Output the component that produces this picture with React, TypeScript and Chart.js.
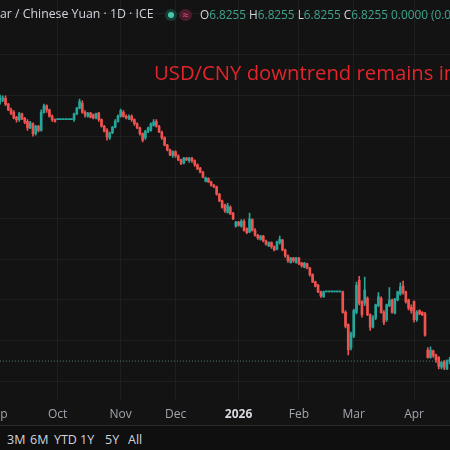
import React, { useEffect, useRef } from 'react';
import { Chart, registerables } from 'chart.js';
Chart.register(...registerables);

// Daily bars (weekdays) from 1 Sep 2025, index = trading-day number
const openValues = [7.139,7.142,7.144,7.146,7.139,7.132,7.129,7.123,7.120,7.127,
 7.122,7.118,7.110,7.115,7.103,7.112,7.107,7.129,7.137,7.132,
 7.124,7.120,7.120,7.120,7.120,7.120,7.120,7.120,7.120,7.127,
 7.134,7.140,7.129,7.124,7.128,7.126,7.122,7.128,7.120,7.112,
 7.107,7.098,7.104,7.111,7.118,7.124,7.129,7.124,7.121,7.124,
 7.120,7.115,7.110,7.103,7.098,7.106,7.107,7.113,7.118,7.112,
 7.105,7.098,7.089,7.083,7.076,7.081,7.076,7.071,7.067,7.073,
 7.070,7.073,7.070,7.065,7.061,7.056,7.045,7.048,7.044,7.040,
 7.038,7.029,7.021,7.016,7.007,7.013,7.006,6.990,6.995,6.990,
 6.996,6.987,6.983,6.998,6.985,6.979,6.974,6.978,6.972,6.966,
 6.970,6.965,6.962,6.970,6.973,6.961,6.954,6.946,6.951,6.946,
 6.951,6.945,6.940,6.944,6.939,6.931,6.922,6.918,6.910,6.904,
 6.910,6.910,6.910,6.910,6.910,6.910,6.910,6.885,6.870,6.842,
 6.856,6.885,6.924,6.898,6.896,6.902,6.882,6.867,6.878,6.893,
 6.902,6.885,6.876,6.893,6.900,6.884,6.900,6.907,6.917,6.910,
 6.900,6.891,6.898,6.876,6.887,6.885,6.883,6.839,6.830,6.838,
 6.833,6.830,6.818,6.825,6.816,6.825];

const highValues = [7.149,7.150,7.149,7.149,7.140,7.134,7.131,7.124,7.129,7.128,
 7.123,7.120,7.118,7.116,7.113,7.113,7.132,7.139,7.138,7.133,
 7.126,7.121,7.120,7.120,7.120,7.120,7.120,7.120,7.128,7.135,
 7.145,7.143,7.131,7.129,7.129,7.127,7.128,7.129,7.121,7.113,
 7.109,7.105,7.112,7.120,7.126,7.133,7.131,7.126,7.126,7.126,
 7.121,7.116,7.111,7.104,7.107,7.111,7.116,7.120,7.120,7.113,
 7.106,7.099,7.090,7.084,7.082,7.082,7.077,7.072,7.074,7.074,
 7.074,7.074,7.071,7.066,7.062,7.057,7.050,7.049,7.045,7.041,
 7.039,7.030,7.022,7.017,7.018,7.015,7.007,6.996,6.996,6.998,
 6.998,6.988,7.006,6.999,6.987,6.980,6.979,6.979,6.973,6.971,
 6.971,6.966,6.972,6.978,6.974,6.962,6.955,6.952,6.952,6.952,
 6.952,6.946,6.946,6.945,6.940,6.932,6.923,6.919,6.911,6.911,
 6.910,6.910,6.910,6.910,6.910,6.910,6.911,6.887,6.871,6.861,
 6.889,6.922,6.929,6.899,6.928,6.904,6.883,6.881,6.895,6.909,
 6.904,6.887,6.895,6.915,6.901,6.902,6.911,6.921,6.923,6.911,
 6.901,6.894,6.899,6.887,6.888,6.886,6.885,6.842,6.843,6.839,
 6.834,6.831,6.825,6.826,6.827,6.830];

const lowValues = [7.137,7.139,7.142,7.137,7.131,7.126,7.121,7.117,7.118,7.120,
 7.115,7.107,7.109,7.100,7.101,7.105,7.106,7.128,7.129,7.123,
 7.118,7.117,7.120,7.120,7.120,7.120,7.120,7.120,7.118,7.126,
 7.133,7.128,7.123,7.123,7.122,7.121,7.121,7.118,7.111,7.105,
 7.095,7.096,7.103,7.110,7.117,7.123,7.123,7.121,7.120,7.118,
 7.113,7.109,7.101,7.093,7.096,7.104,7.106,7.112,7.111,7.104,
 7.096,7.088,7.082,7.076,7.074,7.074,7.070,7.065,7.066,7.070,
 7.068,7.068,7.063,7.059,7.055,7.049,7.044,7.043,7.039,7.037,
 7.028,7.020,7.012,7.007,7.006,7.004,6.998,6.989,6.990,6.989,
 6.984,6.981,6.982,6.984,6.978,6.974,6.973,6.971,6.967,6.965,
 6.963,6.960,6.961,6.968,6.960,6.952,6.946,6.945,6.946,6.945,
 6.943,6.940,6.939,6.938,6.929,6.921,6.916,6.909,6.903,6.903,
 6.910,6.910,6.910,6.910,6.910,6.910,6.884,6.866,6.833,6.839,
 6.854,6.883,6.894,6.879,6.893,6.881,6.863,6.866,6.876,6.892,
 6.884,6.870,6.874,6.892,6.884,6.883,6.899,6.906,6.907,6.896,
 6.888,6.884,6.873,6.874,6.882,6.881,6.856,6.829,6.829,6.830,
 6.824,6.816,6.816,6.815,6.815,6.822];

const closeValues = [7.146,7.148,7.146,7.139,7.132,7.128,7.122,7.120,7.127,7.121,
 7.117,7.110,7.116,7.103,7.112,7.107,7.129,7.137,7.132,7.124,
 7.120,7.118,7.120,7.120,7.120,7.120,7.120,7.120,7.127,7.134,
 7.142,7.129,7.126,7.128,7.123,7.122,7.127,7.120,7.112,7.106,
 7.099,7.104,7.111,7.118,7.124,7.131,7.124,7.122,7.124,7.120,
 7.115,7.110,7.103,7.095,7.106,7.110,7.115,7.117,7.112,7.105,
 7.098,7.089,7.083,7.077,7.081,7.076,7.071,7.067,7.073,7.071,
 7.073,7.070,7.065,7.060,7.056,7.050,7.049,7.044,7.040,7.038,
 7.029,7.021,7.013,7.009,7.015,7.005,6.999,6.995,6.991,6.996,
 6.985,6.982,6.999,6.985,6.979,6.976,6.978,6.972,6.968,6.970,
 6.965,6.961,6.971,6.974,6.961,6.954,6.948,6.951,6.948,6.951,
 6.944,6.942,6.945,6.939,6.931,6.922,6.917,6.910,6.905,6.910,
 6.910,6.910,6.910,6.910,6.910,6.910,6.885,6.868,6.839,6.859,
 6.887,6.918,6.896,6.882,6.912,6.882,6.867,6.878,6.894,6.904,
 6.885,6.873,6.894,6.900,6.885,6.901,6.910,6.916,6.909,6.898,
 6.890,6.887,6.876,6.885,6.883,6.882,6.857,6.830,6.839,6.832,
 6.827,6.819,6.824,6.818,6.826,6.827];

// Month ticks: index of first trading day of each month
const monthTickIndex = [0, 22, 45, 65, 88, 110, 130, 152];
const monthTickLabels = ['Sep', 'Oct', 'Nov', 'Dec', '2026', 'Feb', 'Mar', 'Apr'];
const priceGridValues = [6.80, 6.85, 6.90, 6.95, 7.00, 7.05, 7.10, 7.15, 7.20, 7.25];
const lastPrice = 6.8255;

const UP = '#26a69a';
const DOWN = '#ef5350';
const BG = '#131313';
const GRID = '#1f1f1f';
const FONT = '"Open Sans", sans-serif';

function CandleChart() {
  const ref = useRef<HTMLCanvasElement | null>(null);
  useEffect(() => {
    if (!ref.current) return;
    const colors = closeValues.map((c, i) => (c >= openValues[i] ? UP : DOWN));
    const chart = new Chart(ref.current, {
      type: 'bar',
      data: {
        datasets: [
          {
            data: closeValues.map((c, i) => ({ x: i, y: [lowValues[i], highValues[i]] })) as any,
            backgroundColor: colors,
            barThickness: 1,
            grouped: false,
            borderWidth: 0,
            order: 2,
          } as any,
          {
            data: closeValues.map((c, i) => ({ x: i, y: [openValues[i], c] })) as any,
            backgroundColor: colors,
            barThickness: 2,
            minBarLength: 1,
            grouped: false,
            borderWidth: 0,
            order: 1,
          } as any,
          {
            type: 'line',
            data: [{ x: -10, y: lastPrice }, { x: 170, y: lastPrice }],
            borderColor: 'rgba(90,150,140,0.85)',
            borderWidth: 1,
            borderDash: [1, 2],
            pointRadius: 0,
            order: 3,
          } as any,
        ],
      },
      options: {
        animation: false,
        responsive: true,
        maintainAspectRatio: false,
        layout: { padding: 0 },
        plugins: { legend: { display: false }, tooltip: { enabled: false } },
        scales: {
          x: {
            type: 'linear',
            min: -6.045,
            max: 165.11,
            offset: false,
            grid: { color: GRID, drawTicks: false, offset: false },
            border: { display: false },
            afterBuildTicks: (s: any) => {
              s.ticks = monthTickIndex.map((v) => ({ value: v }));
            },
            afterFit: (s: any) => {
              s.height = 25;
            },
            ticks: {
              autoSkip: false,
              maxRotation: 0,
              padding: 7,
              color: (ctx: any) => (ctx.tick && ctx.tick.value === 88 ? '#d8dae0' : '#a3a6af'),
              font: (ctx: any) => ({
                family: FONT,
                size: 12,
                weight: ctx.tick && ctx.tick.value === 88 ? 'bold' : 'normal',
              }),
              callback: (v: any) => {
                const k = monthTickIndex.indexOf(Number(v));
                return k >= 0 ? monthTickLabels[k] : '';
              },
            },
          },
          y: {
            type: 'linear',
            position: 'right',
            min: 6.778,
            max: 7.266,
            grid: { color: GRID, drawTicks: false },
            border: { display: false },
            ticks: { display: false },
            afterBuildTicks: (s: any) => {
              s.ticks = priceGridValues.map((v) => ({ value: v }));
            },
            afterFit: (s: any) => {
              s.width = 0;
            },
          },
        },
      },
    } as any);
    return () => chart.destroy();
  }, []);
  return (
    <div style={{ position: 'absolute', left: -20, top: 0, width: 470, height: 425 }}>
      <canvas ref={ref} />
    </div>
  );
}

export default function App() {
  const txt = '#d1d4dc';
  const val = '#3fa38d';
  return (
    <div
      style={{
        position: 'fixed',
        left: 0,
        top: 0,
        width: 450,
        height: 450,
        overflow: 'hidden',
        background: BG,
        fontFamily: FONT,
      }}
    >
      <CandleChart />
      <div style={{ position: 'absolute', left: 0, top: 8, fontSize: 12.3, lineHeight: '12px', color: txt, whiteSpace: 'nowrap' }}>
        ar / Chinese Yuan · 1D · ICE
      </div>
      <div style={{ position: 'absolute', left: 165, top: 9, width: 12, height: 12, borderRadius: '50%', background: '#1a3a34' }}>
        <div style={{ position: 'absolute', left: 3, top: 3, width: 6, height: 6, borderRadius: '50%', background: '#43c9ad' }} />
      </div>
      <div style={{ position: 'absolute', left: 179, top: 9, width: 13, height: 12, borderRadius: '50%', background: '#4a1c2c', color: '#f0508a', fontSize: 11, lineHeight: '12px', textAlign: 'center' }}>
        ≈
      </div>
      <div style={{ position: 'absolute', left: 200, top: 8, fontSize: 11.8, lineHeight: '12px', whiteSpace: 'nowrap', color: val }}>
        <span style={{ color: txt }}>O</span>6.8255 <span style={{ color: txt }}>H</span>6.8255{' '}
        <span style={{ color: txt }}>L</span>6.8255 <span style={{ color: txt }}>C</span>6.8255 0.0000 (0.00%)
      </div>
      <div style={{ position: 'absolute', left: 154, top: 62, fontSize: 20.3, lineHeight: '21px', color: '#e3242b', whiteSpace: 'nowrap' }}>
        USD/CNY downtrend remains in
      </div>
      <div style={{ position: 'absolute', left: 0, top: 425, width: 450, height: 1, background: '#2a2a2a' }} />
      <div style={{ position: 'absolute', left: 0, top: 426, width: 450, height: 24, background: '#0f0f0f' }} />
      {[
        ['3M', 7],
        ['6M', 30],
        ['YTD', 54],
        ['1Y', 80],
        ['5Y', 105],
        ['All', 128],
      ].map(([t, x]) => (
        <div key={t as string} style={{ position: 'absolute', left: x as number, top: 434, fontSize: 12.5, lineHeight: '12px', color: txt }}>
          {t}
        </div>
      ))}
    </div>
  );
}
